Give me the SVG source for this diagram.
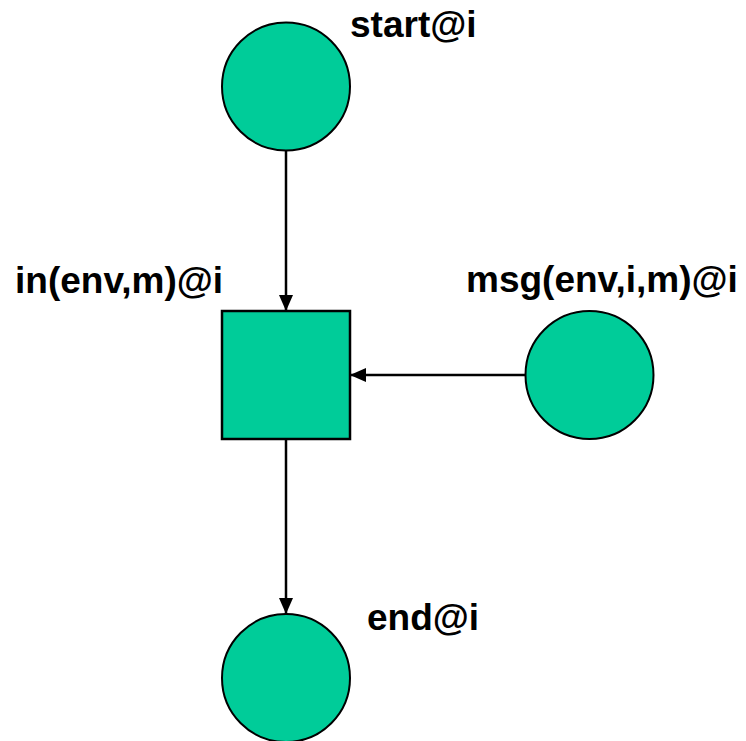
<svg xmlns="http://www.w3.org/2000/svg" width="746" height="741" viewBox="0 0 746 741">
  <style>
    .place { fill: #00CC99; stroke: #000; stroke-width: 2; }
    .trans { fill: #00CC99; stroke: #000; stroke-width: 2.5; }
    .arc { stroke: #000; stroke-width: 2.5; fill: none; marker-end: url(#arrow); }
    .label { font-family: "Liberation Sans", Arial, sans-serif; font-weight: bold; font-size: 37px; fill: #000; }
  </style>
  <defs>
    <marker id="arrow" viewBox="0 0 16 14" refX="16" refY="7" markerWidth="16" markerHeight="14" markerUnits="userSpaceOnUse" orient="auto">
      <path d="M0,0 L16,7 L0,14 Z" fill="#000"/>
    </marker>
  </defs>
  <rect width="746" height="741" fill="#fff"/>

  <g id="connectors">
    <line class="arc" x1="286" y1="150" x2="286" y2="311"/>
    <line class="arc" x1="526" y1="375" x2="350" y2="375"/>
    <line class="arc" x1="286" y1="439" x2="286" y2="614"/>
  </g>

  <g id="start">
    <circle class="place" cx="286" cy="86.5" r="64"/>
    <text class="label" x="350" y="37">start@i</text>
  </g>

  <g id="in">
    <rect class="trans" x="222" y="311" width="128" height="128"/>
    <text class="label" x="15" y="293">in(env,m)@i</text>
  </g>

  <g id="msg">
    <circle class="place" cx="589.5" cy="375" r="64"/>
    <text class="label" x="466" y="292">msg(env,i,m)@i</text>
  </g>

  <g id="end">
    <circle class="place" cx="286" cy="678" r="64"/>
    <text class="label" x="367" y="630">end@i</text>
  </g>
</svg>
